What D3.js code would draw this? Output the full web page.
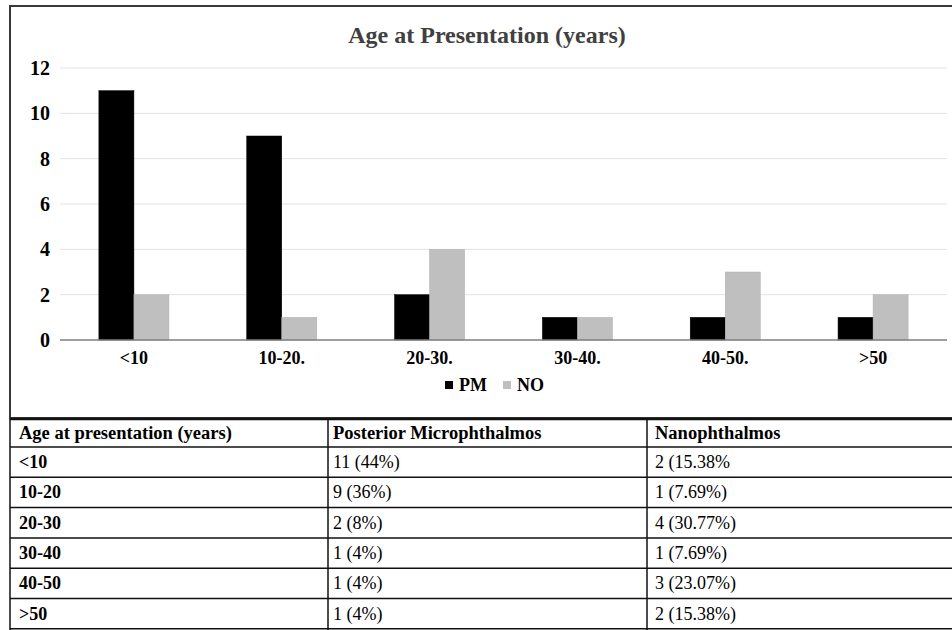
<!DOCTYPE html>
<html><head><meta charset="utf-8">
<script src="https://cdn.jsdelivr.net/npm/d3@7"></script>
<style>html,body{margin:0;padding:0;background:#fff;}svg{display:block;}text{font-family:"Liberation Serif","Times New Roman",serif;}</style>
</head><body>
<script>
const categories = ["<10", "10-20.", "20-30.", "30-40.", "40-50.", ">50"];
const pmValues = [11, 9, 2, 1, 1, 1];
const noValues = [2, 1, 4, 1, 3, 2];
const seriesNames = ["PM", "NO"];
const yTicks = [0, 2, 4, 6, 8, 10, 12];
const tableHeader = ["Age at presentation (years)", "Posterior Microphthalmos", "Nanophthalmos"];
const tableAges = ["<10", "10-20", "20-30", "30-40", "40-50", ">50"];
const tablePM = ["11 (44%)", "9 (36%)", "2 (8%)", "1 (4%)", "1 (4%)", "1 (4%)"];
const tableNO = ["2 (15.38%", "1 (7.69%)", "4 (30.77%)", "1 (7.69%)", "3 (23.07%)", "2 (15.38%)"];

const W = 952, H = 630;
const font = "Liberation Serif, Times New Roman, serif";
const svg = d3.select("body").append("svg").attr("width", W).attr("height", H);
svg.append("rect").attr("width", W).attr("height", H).attr("fill", "#fff");

// chart box
svg.append("rect").attr("x", 10).attr("y", 6).attr("width", 960).attr("height", 412)
  .attr("fill", "none").attr("stroke", "#3a3a3a").attr("stroke-width", 2);

const x = d3.scaleBand().domain(categories).range([60, 947]).paddingInner(0.526).paddingOuter(0.263);
const xs = d3.scaleBand().domain(seriesNames).range([0, x.bandwidth()]);
const y = d3.scaleLinear().domain([0, 12]).range([340, 68]);

// gridlines
svg.append("g").selectAll("line").data(yTicks.filter(d => d > 0)).join("line")
  .attr("x1", 60).attr("x2", 947).attr("y1", d => y(d)).attr("y2", d => y(d))
  .attr("stroke", "#e3e3e3").attr("stroke-width", 1);

// y axis labels
const yAxis = d3.axisLeft(y).tickValues(yTicks).tickSize(0).tickPadding(0);
const gy = svg.append("g").attr("transform", "translate(50,0)").call(yAxis);
gy.attr("font-family", null).attr("font-size", null);
gy.select(".domain").remove();
gy.selectAll("text").attr("font-family", font).attr("font-size", 20).attr("font-weight", "bold").attr("fill", "#000");

// bars
const data = categories.map((c, i) => ({c, vals: [{s: "PM", v: pmValues[i]}, {s: "NO", v: noValues[i]}]}));
const colors = {PM: "#000000", NO: "#bfbfbf"};
svg.append("g").selectAll("g").data(data).join("g")
  .attr("transform", d => `translate(${x(d.c)},0)`)
  .selectAll("rect").data(d => d.vals).join("rect")
  .attr("x", d => xs(d.s)).attr("width", xs.bandwidth())
  .attr("y", d => y(d.v)).attr("height", d => y(0) - y(d.v))
  .attr("fill", d => colors[d.s]).attr("stroke", d => d.s === "NO" ? "#b0b0b0" : "#000").attr("stroke-width", 0.5);

// x axis
const xAxis = d3.axisBottom(x).tickSize(0).tickPadding(11);
const gx = svg.append("g").attr("transform", `translate(0,${y(0)})`).call(xAxis);
gx.attr("font-family", null).attr("font-size", null);
gx.select(".domain").attr("stroke", "#7f7f7f").attr("stroke-width", 1.5).attr("d", "M60,0H947");
gx.selectAll("text").attr("font-family", font).attr("font-size", 18).attr("font-weight", "bold").attr("fill", "#000");

// title
svg.append("text").attr("x", 487).attr("y", 43).attr("text-anchor", "middle")
  .attr("font-family", font).attr("font-size", 24).attr("font-weight", "bold").attr("fill", "#404040")
  .text("Age at Presentation (years)");

// legend
const legX = [445, 503];
const lg = svg.append("g");
seriesNames.forEach((s, i) => {
  lg.append("rect").attr("x", legX[i]).attr("y", 381).attr("width", 8).attr("height", 8).attr("fill", colors[s]);
  lg.append("text").attr("x", legX[i] + 14).attr("y", 391)
    .attr("font-family", font).attr("font-size", 18).attr("font-weight", "bold").attr("fill", "#000").text(s);
});

// table
const tTop = 419, headH = 28, rowH = 30.3;
const colX = [10, 328, 647];
const tg = svg.append("g");
const rowYs = [tTop, tTop + headH];
for (let i = 1; i <= tableAges.length; i++) rowYs.push(tTop + headH + i * rowH);
tg.selectAll("line.h").data(rowYs).join("line")
  .attr("x1", 10).attr("x2", W).attr("y1", d => d).attr("y2", d => d)
  .attr("stroke", "#111").attr("stroke-width", (d, i) => i === 0 ? 2.5 : 1.5);
tg.selectAll("line.v").data(colX).join("line")
  .attr("x1", d => d).attr("x2", d => d).attr("y1", tTop).attr("y2", H)
  .attr("stroke", "#111").attr("stroke-width", 1.5);

const cellPad = [9, 5, 8];
tableHeader.forEach((t, j) => {
  tg.append("text").attr("x", colX[j] + cellPad[j]).attr("y", tTop + 20)
    .attr("font-family", font).attr("font-size", 18.5).attr("font-weight", "bold").attr("fill", "#000").text(t);
});
tableAges.forEach((a, i) => {
  const yy = tTop + headH + i * rowH + 21;
  [a, tablePM[i], tableNO[i]].forEach((t, j) => {
    tg.append("text").attr("x", colX[j] + cellPad[j]).attr("y", yy)
      .attr("font-family", font).attr("font-size", 18).attr("font-weight", j === 0 ? "bold" : "normal")
      .attr("fill", "#000").text(t);
  });
});
</script>
</body></html>
